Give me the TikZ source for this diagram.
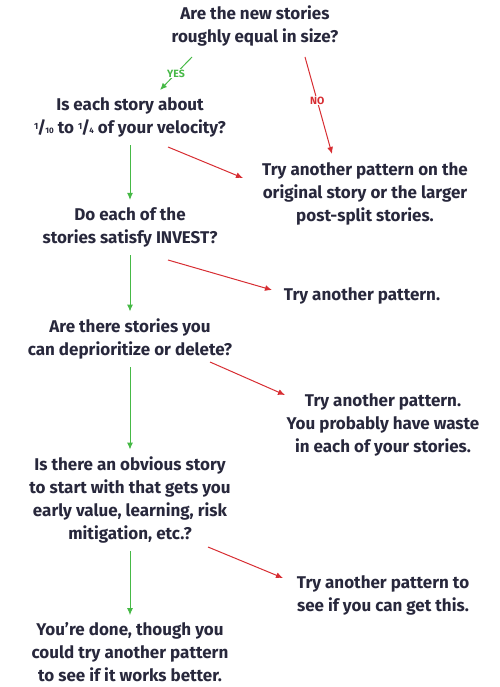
\documentclass[tikz,border=0pt]{standalone}
\usepackage{fontspec}
\setmainfont{Fira Sans}
\usetikzlibrary{positioning,arrows.meta}
\definecolor{ink}{RGB}{40,40,60}
\definecolor{yesgreen}{RGB}{70,185,70}
\definecolor{nored}{RGB}{215,45,50}
\newcommand\frc[2]{\raisebox{.45ex}{\small#1}\kern-.05em/\kern-.05em{\footnotesize#2}}
\tikzset{
  q/.style={align=center,text=ink,font=\fontsize{17}{23}\selectfont\bfseries,inner sep=1pt},
  yes/.style={draw=yesgreen,-{Latex[length=7pt,width=6pt]},line width=1pt},
  no/.style={draw=nored,-{Latex[length=7pt,width=6pt]},line width=1pt},
  tag/.style={font=\fontsize{10.5}{11}\selectfont\bfseries,fill=white,inner sep=1pt}
}
\begin{document}
\begin{tikzpicture}[x=1pt,y=-1pt]
   \useasboundingbox (0,0) rectangle (499,687);

   \node[q] (q1) at (255,26) {Are the new stories\\roughly equal in size?};
   \node[q] (q2) at (130,117) {Is each story about\\\frc{1}{10} to \frc{1}{4} of your velocity?};
   \node[q] (q3) at (130,227) {Do each of the\\stories satisfy INVEST?};
   \node[q] (q4) at (130,339) {Are there stories you\\can deprioritize or delete?};
   \node[q] (q5) at (130,500) {Is there an obvious story\\to start with that gets you\\early value, learning, risk\\mitigation, etc.?};
   \node[q] (q6) at (130,652) {You're done, though you\\could try another pattern\\to see if it works better.};

   \node[q] (a1) at (365,194) {Try another pattern on the\\original story or the larger\\post-split stories.};
   \node[q] (a2) at (362,296) {Try another pattern.};
   \node[q] (a3) at (383,425) {Try another pattern.\\You probably have waste\\in each of your stories.};
   \node[q] (a4) at (383,595) {Try another pattern to\\see if you can get this.};

   % ends of the arrows
   \coordinate (y1) at (192,57);
   \coordinate (y2) at (160,90);
   \coordinate (n1) at (305,57);
   \coordinate (n2) at (332,154);
   \coordinate (r2) at (168,147);
   \coordinate (e2) at (243,178);
   \coordinate (r3) at (168,260);
   \coordinate (e3) at (272,290);
   \coordinate (r4) at (210,362);
   \coordinate (e4) at (285,395);
   \coordinate (r5) at (208,547);
   \coordinate (e5) at (283,578);

   \draw[yes] (y1) -- node[tag,text=yesgreen] {YES} (y2);
   \draw[no] (n1) -- node[tag,text=nored,pos=.45] {NO} (n2);

   \draw[no] (r2) -- (e2);
   \draw[no] (r3) -- (e3);
   \draw[no] (r4) -- (e4);
   \draw[no] (r5) -- (e5);

   \draw[yes,shorten <=7pt,shorten >=6pt] (q2) -- (q3);
   \draw[yes,shorten <=7pt,shorten >=6pt] (q3) -- (q4);
   \draw[yes,shorten <=7pt,shorten >=6pt] (q4) -- (q5);
   \draw[yes,shorten <=7pt,shorten >=6pt] (q5) -- (q6);

\end{tikzpicture}
\end{document}
